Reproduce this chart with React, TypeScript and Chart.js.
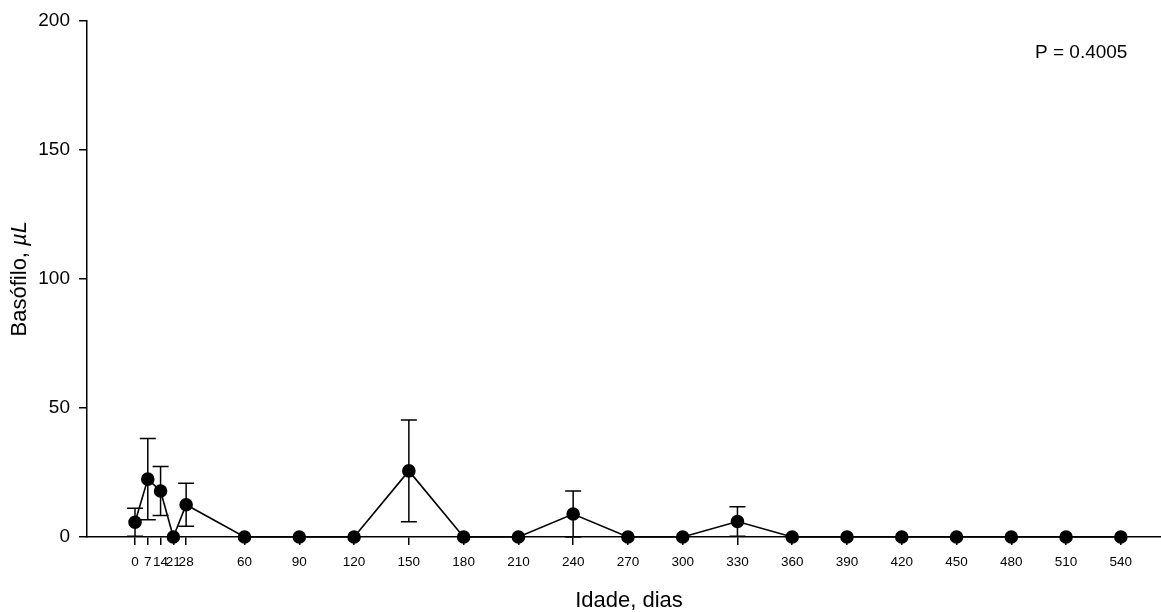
import React, { useEffect, useRef } from "react";
import { Chart, registerables } from "chart.js";

Chart.register(...registerables);

// Age in days at each sampling point
const days = [0, 7, 14, 21, 28, 60, 90, 120, 150, 180, 210, 240, 270, 300, 330, 360, 390, 420, 450, 480, 510, 540];
// Mean basophil count (per µL)
const means = [5.7, 22.4, 17.8, 0, 12.5, 0, 0, 0, 25.6, 0, 0, 8.9, 0, 0, 6.0, 0, 0, 0, 0, 0, 0, 0];
// Standard error of the mean
const errors = [5.4, 15.7, 9.5, 0, 8.3, 0, 0, 0, 19.7, 0, 0, 8.9, 0, 0, 5.7, 0, 0, 0, 0, 0, 0, 0];
const yTicks = [0, 50, 100, 150, 200];
const pValueLabel = "P = 0.4005";

const FONT = "'Liberation Sans', Arial, sans-serif";

// Vertical error bars with caps, drawn beneath the markers
const errorBars = {
  id: "errorBars",
  beforeDatasetsDraw(chart: any) {
    const { ctx, scales } = chart;
    const xs = scales.x;
    const ys = scales.y;
    ctx.save();
    ctx.strokeStyle = "#000";
    ctx.lineWidth = 1.5;
    const cap = 8;
    days.forEach((d, i) => {
      const e = errors[i];
      if (!e) return;
      const x = xs.getPixelForValue(d);
      const yTop = ys.getPixelForValue(means[i] + e);
      const yBot = ys.getPixelForValue(Math.max(0, means[i] - e));
      ctx.beginPath();
      ctx.moveTo(x, yTop);
      ctx.lineTo(x, yBot);
      ctx.moveTo(x - cap, yTop);
      ctx.lineTo(x + cap, yTop);
      ctx.moveTo(x - cap, yBot);
      ctx.lineTo(x + cap, yBot);
      ctx.stroke();
    });
    ctx.restore();
  },
};

// Axis titles (with italic unit) and the P-value note
const annotations = {
  id: "annotations",
  afterDraw(chart: any) {
    const { ctx, chartArea } = chart;
    ctx.save();
    ctx.fillStyle = "#000";

    // y-axis title, rotated, with "µL" in italics
    const plain = "Basófilo, ";
    const italic = "µL";
    ctx.font = `22px ${FONT}`;
    const w1 = ctx.measureText(plain).width;
    ctx.font = `italic 22px ${FONT}`;
    const w2 = ctx.measureText(italic).width;
    const cy = (chartArea.top + chartArea.bottom) / 2;
    ctx.translate(20, cy);
    ctx.rotate(-Math.PI / 2);
    ctx.textBaseline = "middle";
    ctx.textAlign = "left";
    const start = -(w1 + w2) / 2;
    ctx.font = `22px ${FONT}`;
    ctx.fillText(plain, start, 0);
    ctx.font = `italic 22px ${FONT}`;
    ctx.fillText(italic, start + w1, 0);
    ctx.setTransform(1, 0, 0, 1, 0, 0);

    // x-axis title
    ctx.font = `22px ${FONT}`;
    ctx.textAlign = "center";
    ctx.textBaseline = "alphabetic";
    ctx.fillText("Idade, dias", 629, 607);

    // P value
    ctx.font = `19px ${FONT}`;
    ctx.textAlign = "left";
    ctx.textBaseline = "middle";
    ctx.fillText(pValueLabel, 1035, 53);
    ctx.restore();
  },
};

export default function App() {
  const canvasRef = useRef<HTMLCanvasElement | null>(null);

  useEffect(() => {
    const canvas = canvasRef.current;
    if (!canvas) return;
    const chart = new Chart(canvas, {
      type: "scatter",
      data: {
        datasets: [
          {
            data: days.map((d, i) => ({ x: d, y: means[i] })),
            showLine: true,
            borderColor: "#000",
            borderWidth: 1.6,
            backgroundColor: "#000",
            pointBackgroundColor: "#000",
            pointBorderColor: "#000",
            pointRadius: 6,
            pointHoverRadius: 6,
            clip: false,
          },
        ],
      },
      options: {
        animation: false,
        responsive: false,
        events: [],
        layout: { autoPadding: false, padding: { top: 20, right: 0, bottom: 0, left: 0 } },
        plugins: {
          legend: { display: false },
          tooltip: { enabled: false },
          title: { display: false },
        },
        scales: {
          x: {
            type: "linear",
            min: -26.3,
            max: 562,
            grid: {
              drawOnChartArea: false,
              drawTicks: true,
              tickLength: 8,
              color: "#000",
              lineWidth: 1.5,
            },
            border: { display: true, color: "#000", width: 1.5 },
            afterBuildTicks: (scale: any) => {
              scale.ticks = days.map((v) => ({ value: v }));
            },
            afterFit: (scale: any) => {
              scale.height = 75;
            },
            ticks: {
              autoSkip: false,
              maxRotation: 0,
              minRotation: 0,
              padding: 9,
              color: "#000",
              font: { family: FONT, size: 13.5 },
              callback: (v: any) => String(v),
            },
          },
          y: {
            type: "linear",
            min: 0,
            max: 200,
            grid: {
              drawOnChartArea: false,
              drawTicks: true,
              tickLength: 8,
              color: "#000",
              lineWidth: 1.5,
            },
            border: { display: true, color: "#000", width: 1.5 },
            afterBuildTicks: (scale: any) => {
              scale.ticks = yTicks.map((v) => ({ value: v }));
            },
            afterFit: (scale: any) => {
              scale.width = 87;
            },
            ticks: {
              padding: 9,
              color: "#000",
              font: { family: FONT, size: 19 },
            },
          },
        },
      },
      plugins: [errorBars, annotations],
    });
    return () => chart.destroy();
  }, []);

  return (
    <div style={{ position: "fixed", left: 0, top: 0, width: 1161, height: 612, background: "#fff" }}>
      <canvas ref={canvasRef} width={1161} height={612} />
    </div>
  );
}
